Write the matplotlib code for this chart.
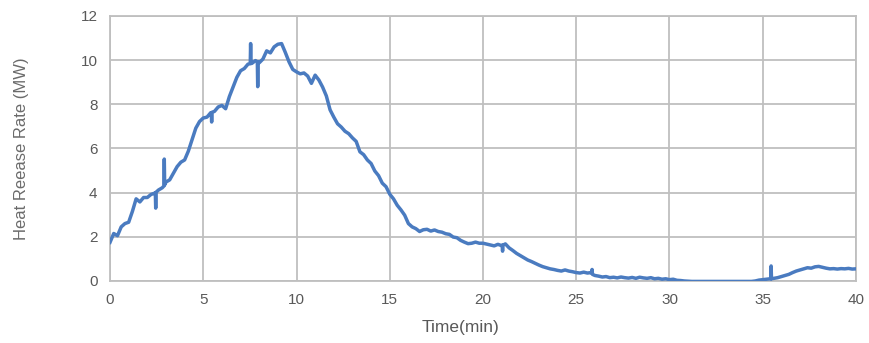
import numpy as np
import matplotlib
matplotlib.use("Agg")
import matplotlib.pyplot as plt

# Heat release rate sampled every 0.2 min from 0 to 40 min (MW)
time_step = 0.2
hrr = [
    1.75, 2.15, 2.05, 2.45, 2.60, 2.66, 3.15, 3.72, 3.58, 3.78,   # 0-1.8
    3.78, 3.92, 3.98, 4.12, 4.22, 4.48, 4.58, 4.88, 5.18, 5.38,   # 2-3.8
    5.48, 5.88, 6.40, 6.92, 7.22, 7.38, 7.42, 7.62, 7.68, 7.88,   # 4-5.8
    7.95, 7.80, 8.35, 8.78, 9.22, 9.52, 9.62, 9.82, 9.85, 9.98,   # 6-7.8
    9.88, 10.05, 10.42, 10.33, 10.60, 10.72, 10.75, 10.35, 9.92, 9.58,  # 8-9.8
    9.47, 9.38, 9.42, 9.28, 8.95, 9.32, 9.10, 8.78, 8.38, 7.75,   # 10-11.8
    7.42, 7.12, 6.97, 6.78, 6.67, 6.48, 6.32, 5.85, 5.72, 5.48,   # 12-13.8
    5.32, 4.98, 4.77, 4.43, 4.27, 3.93, 3.72, 3.43, 3.22, 2.98,   # 14-15.8
    2.60, 2.45, 2.37, 2.24, 2.32, 2.34, 2.26, 2.31, 2.24, 2.21,   # 16-17.8
    2.14, 2.11, 1.99, 1.96, 1.84, 1.76, 1.69, 1.71, 1.76, 1.71,   # 18-19.8
    1.71, 1.67, 1.63, 1.59, 1.66, 1.60, 1.68, 1.50, 1.38, 1.25,   # 20-21.8
    1.15, 1.05, 0.95, 0.88, 0.80, 0.72, 0.65, 0.60, 0.55, 0.52,   # 22-23.8
    0.48, 0.45, 0.50, 0.45, 0.42, 0.38, 0.36, 0.40, 0.36, 0.38,   # 24-25.8
    0.25, 0.22, 0.18, 0.20, 0.15, 0.17, 0.14, 0.18, 0.15, 0.13,   # 26-27.8
    0.16, 0.12, 0.17, 0.14, 0.12, 0.15, 0.10, 0.12, 0.08, 0.10,   # 28-29.8
    0.06, 0.08, 0.03, 0.02, 0.00, -0.01, -0.02, -0.02, -0.02, -0.02,  # 30-31.8
    -0.02, -0.02, -0.02, -0.02, -0.02, -0.02, -0.02, -0.02, -0.02, -0.02,  # 32-33.8
    -0.02, -0.02, -0.02, 0.00, 0.04, 0.06, 0.08, 0.10, 0.12, 0.15,  # 34-35.8
    0.20, 0.25, 0.30, 0.38, 0.45, 0.50, 0.55, 0.60, 0.58, 0.64,   # 36-37.8
    0.66, 0.62, 0.58, 0.55, 0.56, 0.54, 0.56, 0.55, 0.57, 0.54,   # 38-39.8
    0.55,                                                         # 40
]

# Short transient readings (spikes and dips) between the regular samples
spike_time = [2.43, 2.45, 2.47, 2.89, 2.91, 2.93, 5.43, 5.45, 5.47,
              7.52, 7.54, 7.56, 7.90, 7.92, 7.94, 21.03, 21.05, 21.07,
              25.83, 25.85, 25.87, 35.43, 35.45, 35.47]
spike_hrr = [3.98, 3.30, 4.02, 4.30, 5.52, 4.35, 7.62, 7.20, 7.64,
             9.84, 10.75, 9.85, 9.92, 8.80, 9.92, 1.62, 1.35, 1.62,
             0.36, 0.52, 0.30, 0.09, 0.68, 0.10]

x_ticks = [0, 5, 10, 15, 20, 25, 30, 35, 40]
y_ticks = [0, 2, 4, 6, 8, 10, 12]

base_time = np.arange(len(hrr)) * time_step
t_all = np.concatenate([base_time, spike_time])
v_all = np.concatenate([hrr, spike_hrr])
order = np.argsort(t_all, kind="stable")
t_all, v_all = t_all[order], v_all[order]

narrow = ["Liberation Sans Narrow", "Liberation Sans", "DejaVu Sans"]
text_color = "#595959"
grid_color = "#bfbfbf"

fig = plt.figure(figsize=(8.69, 3.43), dpi=100)
ax = fig.add_axes([0.1266, 0.1808, 0.8584, 0.7726])

ax.plot(t_all, v_all, color="#4a7bc0", lw=2.5, solid_joinstyle="round", zorder=3)

ax.set_xlim(0, 40)
ax.set_ylim(0, 12)
ax.set_xticks(x_ticks)
ax.set_yticks(y_ticks)
ax.set_xticklabels([str(v) for v in x_ticks], family=narrow, fontsize=11, color=text_color)
ax.set_yticklabels([str(v) for v in y_ticks], family=narrow, fontsize=11, color=text_color)
ax.tick_params(length=0, pad=9)
ax.grid(True, color=grid_color, lw=1.3, zorder=0)
for s in ax.spines.values():
    s.set_color(grid_color)
    s.set_linewidth(1.3)

ax.set_xlabel("Time(min)", family=narrow, fontsize=12.5, color=text_color)
ax.xaxis.set_label_coords(0.47, -0.177)
ax.xaxis.label.set_va("center")
ax.set_ylabel("Heat Reease Rate (MW)", family=["Liberation Sans", "DejaVu Sans"],
              fontsize=12, color="#6b6b6b")
ax.yaxis.set_label_coords(-0.118, 0.50)
ax.yaxis.label.set_va("center")

fig.savefig("out.png", dpi=100)
